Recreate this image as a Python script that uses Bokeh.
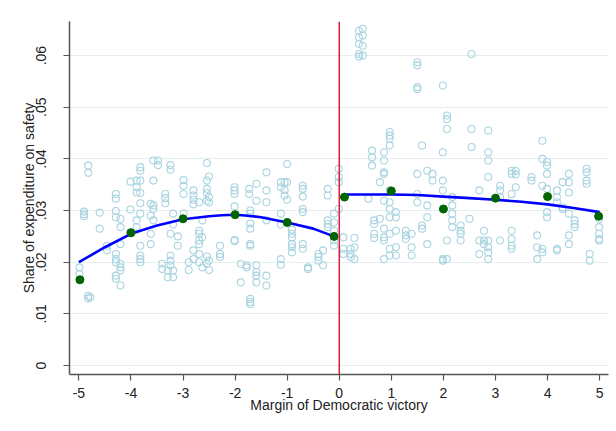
from bokeh.plotting import figure
from bokeh.models import Range1d, Span, FixedTicker
from bokeh.embed import file_html
from bokeh.resources import INLINE

# ---------------- data ----------------
x_ticks = [-5, -4, -3, -2, -1, 0, 1, 2, 3, 4, 5]
x_tick_labels = ["-5", "-4", "-3", "-2", "-1", "0", "1", "2", "3", "4", "5"]
y_ticks = [0, 0.01, 0.02, 0.03, 0.04, 0.05, 0.06]
y_tick_labels = ["0", ".01", ".02", ".03", ".04", ".05", ".06"]

# raw observations, grouped by margin value
obs_x = [-4.99, -4.90, -4.82, -4.78, -4.60, -4.46, -4.29, -4.20, -4.01, -3.89,
         -3.82, -3.62, -3.57, -3.48, -3.40, -3.34, -3.29, -3.24, -3.19, -3.10,
         -2.99, -2.89, -2.80, -2.69, -2.63, -2.54, -2.50, -2.29, -2.01, -1.89,
         -1.78, -1.73, -1.71, -1.59, -1.40, -1.12, -1.05, -1.00, -0.91, -0.70,
         -0.60, -0.40, -0.31, -0.22, -0.10, -0.01,
         0.08, 0.22, 0.29, 0.38, 0.45, 0.56, 0.63, 0.67, 0.78, 0.86,
         0.97, 1.09, 1.28, 1.39, 1.50, 1.59, 1.69, 1.79, 1.99, 2.07,
         2.17, 2.33, 2.50, 2.54, 2.69, 2.78, 2.86, 3.09, 3.31, 3.39,
         3.69, 3.80, 3.90, 3.99, 4.18, 4.29, 4.41, 4.52, 4.75, 4.81, 4.99]
obs_y = [
    [0.0190, 0.0177],
    [0.0298, 0.0293, 0.0289],
    [0.0387, 0.0373, 0.0135, 0.0130],
    [0.0132],
    [0.0296, 0.0265],
    [0.0232, 0.0223],
    [0.0332, 0.0323, 0.0299, 0.0287, 0.0216, 0.0206, 0.0200, 0.0174, 0.0168],
    [0.0284, 0.0268, 0.0235, 0.0197, 0.0190, 0.0184, 0.0155],
    [0.0356, 0.0302, 0.0258],
    [0.0358, 0.0345, 0.0335, 0.0281, 0.0268],
    [0.0384, 0.0377, 0.0358, 0.0334, 0.0314, 0.0294, 0.0232, 0.0213, 0.0206, 0.0200],
    [0.0313, 0.0290, 0.0255, 0.0235],
    [0.0397, 0.0358, 0.0310, 0.0303, 0.0281],
    [0.0397, 0.0388],
    [0.0197, 0.0187],
    [0.0332, 0.0324, 0.0314],
    [0.0184, 0.0171],
    [0.0388, 0.0379, 0.0255, 0.0213, 0.0203, 0.0194],
    [0.0294, 0.0273, 0.0184, 0.0171],
    [0.0250, 0.0232],
    [0.0359, 0.0348, 0.0332, 0.0294],
    [0.0200, 0.0185],
    [0.0339, 0.0329, 0.0321, 0.0312, 0.0223, 0.0206],
    [0.0316, 0.0261, 0.0255, 0.0242, 0.0235, 0.0216, 0.0200],
    [0.0281, 0.0248, 0.0190],
    [0.0392, 0.0358, 0.0342, 0.0334, 0.0319, 0.0211, 0.0197],
    [0.0366, 0.0326, 0.0316, 0.0203, 0.0185],
    [0.0232, 0.0216, 0.0210],
    [0.0345, 0.0339, 0.0332, 0.0308, 0.0243, 0.0241],
    [0.0197, 0.0161],
    [0.0194, 0.0190],
    [0.0342, 0.0332],
    [0.0300, 0.0294, 0.0275, 0.0265, 0.0235, 0.0232, 0.0129, 0.0123, 0.0119],
    [0.0352, 0.0319, 0.0194, 0.0181, 0.0174, 0.0161],
    [0.0374, 0.0339, 0.0316, 0.0281, 0.0174, 0.0155],
    [0.0355, 0.0345, 0.0294, 0.0273, 0.0206, 0.0195],
    [0.0355, 0.0340, 0.0329],
    [0.0390, 0.0355, 0.0321],
    [0.0263, 0.0255, 0.0248, 0.0235, 0.0229, 0.0219],
    [0.0348, 0.0342, 0.0327, 0.0303, 0.0297, 0.0235, 0.0226],
    [0.0190, 0.0187],
    [0.0216, 0.0210, 0.0203],
    [0.0223, 0.0194],
    [0.0342, 0.0329, 0.0281, 0.0274, 0.0268],
    [0.0294, 0.0277, 0.0261, 0.0242, 0.0232],
    [0.0381, 0.0365, 0.0355, 0.0303],
    [0.0248, 0.0226, 0.0216],
    [0.0226, 0.0216, 0.0210],
    [0.0247, 0.0229, 0.0206],
    [0.0648, 0.0635, 0.0623, 0.0603, 0.0598],
    [0.0652, 0.0639, 0.0619, 0.0600],
    [0.0323],
    [0.0416, 0.0403, 0.0387],
    [0.0281, 0.0274, 0.0255, 0.0247],
    [0.0355, 0.0284],
    [0.0413, 0.0397, 0.0374, 0.0371, 0.0319, 0.0265, 0.0248, 0.0242, 0.0206],
    [0.0452, 0.0445, 0.0439, 0.0426, 0.0339, 0.0316, 0.0303, 0.0287, 0.0255, 0.0226, 0.0213],
    [0.0297, 0.0287, 0.0261, 0.0229, 0.0213],
    [0.0261, 0.0252, 0.0245],
    [0.0255, 0.0229, 0.0213],
    [0.0587, 0.0581, 0.0539, 0.0535, 0.0371, 0.0332, 0.0316],
    [0.0426, 0.0271, 0.0265],
    [0.0377, 0.0310, 0.0287, 0.0235],
    [0.0371, 0.0358],
    [0.0542, 0.0413, 0.0358, 0.0339, 0.0206, 0.0203],
    [0.0484, 0.0477, 0.0458, 0.0242, 0.0206],
    [0.0326, 0.0310, 0.0294, 0.0281, 0.0268],
    [0.0271, 0.0261, 0.0255, 0.0242],
    [0.0284],
    [0.0603, 0.0458, 0.0423],
    [0.0339, 0.0242, 0.0216],
    [0.0261, 0.0242, 0.0235],
    [0.0455, 0.0413, 0.0397, 0.0365, 0.0242, 0.0229, 0.0219, 0.0206],
    [0.0348, 0.0339, 0.0326, 0.0242],
    [0.0377, 0.0371, 0.0332, 0.0261, 0.0245, 0.0232, 0.0226],
    [0.0377, 0.0370, 0.0345],
    [0.0365, 0.0358],
    [0.0252, 0.0229, 0.0206],
    [0.0435, 0.0400, 0.0348, 0.0226, 0.0219],
    [0.0394, 0.0387, 0.0371, 0.0342, 0.0297, 0.0287],
    [0.0339, 0.0326, 0.0316, 0.0226, 0.0223],
    [0.0355, 0.0306, 0.0303],
    [0.0371, 0.0355, 0.0335, 0.0294, 0.0252, 0.0235],
    [0.0281, 0.0274, 0.0268],
    [0.0381, 0.0374, 0.0358, 0.0352],
    [0.0216, 0.0203],
    [0.0284, 0.0268, 0.0255, 0.0245, 0.0242],
]

# bin means
bin_x = [-4.98, -4, -3, -2, -1, -0.1, 0.1, 1, 2, 3, 4, 4.98]
bin_y = [0.0166, 0.0257, 0.0284, 0.0292, 0.0277, 0.0250,
         0.0326, 0.0338, 0.0303, 0.0324, 0.0327, 0.0289]

# fitted curves
fit_left_x = [-5, -4.5, -4, -3.5, -3, -2.5, -2.25, -2, -1.75, -1.5, -1, -0.5, -0.1]
fit_left_y = [0.0200, 0.0229, 0.0255, 0.0271, 0.0283, 0.0289, 0.0291, 0.0292,
              0.0290, 0.0287, 0.0277, 0.0265, 0.0250]
fit_right_x = [0.1, 0.5, 1.0, 1.5, 2.0, 2.5, 3.0, 3.5, 4.0, 4.5, 5.0]
fit_right_y = [0.0331, 0.0331, 0.0331, 0.0330, 0.0327, 0.0324, 0.0321,
               0.0317, 0.0312, 0.0305, 0.0297]

# ---------------- figure ----------------
FONT = "Liberation Sans"
AXIS_COLOR = "#555555"

p = figure(width=612, height=428, output_backend="svg", toolbar_location=None,
           x_range=Range1d(-5.18, 5.17), y_range=Range1d(-0.00174, 0.0666),
           min_border_left=69, min_border_right=4, min_border_top=21,
           min_border_bottom=54)
p.outline_line_color = None
p.background_fill_color = "white"
p.border_fill_color = "white"

p.xgrid.grid_line_color = None
p.ygrid.grid_line_color = "#e6eef0"
p.ygrid.grid_line_width = 1

p.xaxis.ticker = FixedTicker(ticks=x_ticks)
p.xaxis.major_label_overrides = {t: l for t, l in zip(x_ticks, x_tick_labels)}
p.yaxis.ticker = FixedTicker(ticks=y_ticks)
p.yaxis.major_label_overrides = {t: l for t, l in zip(y_ticks, y_tick_labels)}
p.yaxis.major_label_orientation = "vertical"

for ax in (p.xaxis, p.yaxis):
    ax.axis_line_color = AXIS_COLOR
    ax.axis_line_width = 1.5
    ax.major_tick_line_color = AXIS_COLOR
    ax.major_tick_line_width = 1.2
    ax.major_tick_out = 6
    ax.major_tick_in = 0
    ax.minor_tick_line_color = None
    ax.major_label_text_font = FONT
    ax.major_label_text_font_size = "14px"
    ax.major_label_text_color = "#222222"
    ax.axis_label_text_font = FONT
    ax.axis_label_text_font_size = "14px"
    ax.axis_label_text_font_style = "normal"
    ax.axis_label_text_color = "#222222"

p.xaxis.axis_label = "Margin of Democratic victory"
p.xaxis.major_label_standoff = 7
p.xaxis.axis_label_standoff = -4
p.yaxis.axis_label = "Share of expenditure on safety"
p.yaxis.major_label_standoff = 17
p.yaxis.axis_label_standoff = -3

# scatter of raw observations
sx, sy = [], []
for xv, ys in zip(obs_x, obs_y):
    for yv in ys:
        sx.append(xv)
        sy.append(yv)
p.scatter(sx, sy, marker="circle", size=7, fill_color=None,
          line_color="#a9d4e0", line_width=1.1)

# cutoff line
p.add_layout(Span(location=0, dimension="height", line_color="#d6203e",
                  line_width=1.5))

# fitted curves
p.line(fit_left_x, fit_left_y, line_color="#0000ff", line_width=2.6)
p.line(fit_right_x, fit_right_y, line_color="#0000ff", line_width=2.6)

# bin means
p.scatter(bin_x, bin_y, marker="circle", size=8, fill_color="#006400",
          line_color="#006400")

open("out.html", "w").write(file_html(p, INLINE))
